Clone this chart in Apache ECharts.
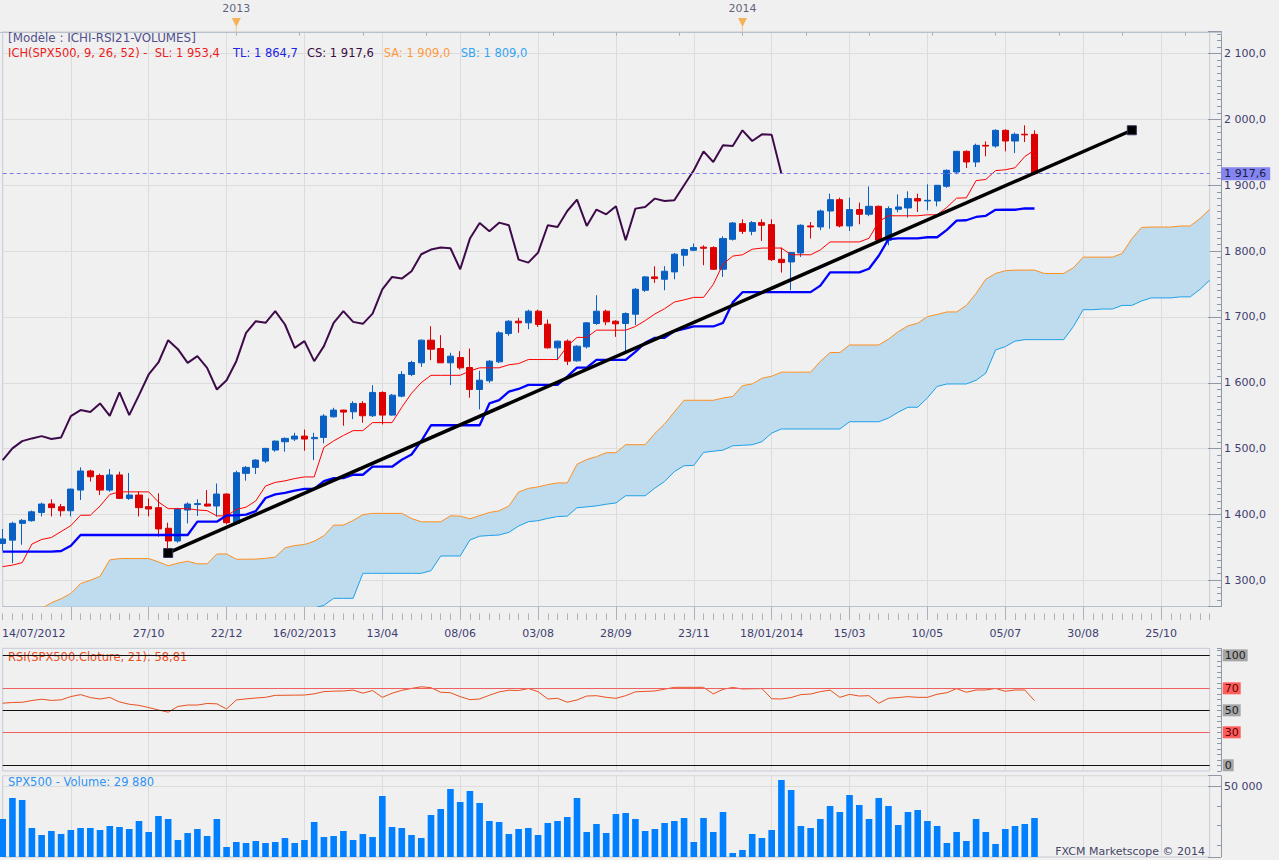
<!DOCTYPE html>
<html><head><meta charset="utf-8">
<script src="https://cdn.jsdelivr.net/npm/echarts@6/dist/echarts.min.js"></script>
<style>html,body{margin:0;padding:0;background:#f0f0f0;}#c{width:1279px;height:860px;}</style>
</head><body><div id="c"></div>
<script>
// ---------- data (weekly SPX500, week of 14/07/2012 = index 0) ----------
const openP = [1356,1361,1386.5,1390.5,1403,1416,1411.7,1405.6,1437,1466,
 1459,1437,1460,1424.4,1429.5,1411.8,1410.3,1379,1359.7,1406.7,
 1415,1415.8,1412.8,1431,1386.5,1462.4,1471.5,1481,1497.8,1510.4,
 1514.5,1519,1515,1517,1548.3,1558.5,1555.9,1568.6,1549.9,1585.3,
 1550.9,1579.7,1612.6,1630.3,1664.7,1652,1630.3,1638.4,1623.2,1589.8,
 1603,1631.8,1674.8,1693.5,1691,1708.7,1689,1653,1663.2,1633.3,
 1654.6,1690,1708.7,1693.5,1690,1704.1,1740.5,1760.8,1757.2,1768.4,
 1793.7,1801.3,1806,1805.3,1772.4,1817.9,1841.7,1830,1843.2,1840.2,
 1787.6,1783.5,1797.2,1838.2,1836.7,1860.9,1878.1,1838.2,1863,1855.9,
 1868,1816.4,1863.5,1865.5,1879.7,1876.1,1876.1,1898.4,1920.1,1951.5,
 1935.3,1960.6,1959.6,1983.4,1967.2,1977.5,1977.3];
const closeP = [1362.7,1386.5,1391,1404,1415.8,1410.3,1405.6,1438.5,1466,1457.3,
 1437,1460,1424.4,1429.5,1410.3,1408.3,1378,1359.7,1408.3,1415.8,
 1416.5,1412.8,1431,1387.5,1463.4,1471.5,1482.6,1500.3,1511.4,1515.5,
 1519,1514.5,1517,1549.4,1558.5,1555.5,1568.6,1549.9,1585.3,1550.9,
 1581.2,1612.6,1630.8,1664.7,1651,1630.3,1640.4,1622.7,1589.8,1603.9,
 1632.8,1675.8,1693.5,1691,1708.7,1688.5,1653,1663.2,1632.8,1655.6,
 1691,1708.7,1692.5,1689.5,1705.1,1742,1760.8,1758.2,1769.4,1795.2,
 1802.3,1805.3,1804.3,1772.4,1819,1842.7,1830,1843.2,1839.2,1787,
 1782.5,1797.7,1839.2,1836.7,1860.9,1878.1,1838.2,1863,1855.9,1868,
 1816.4,1864.5,1867,1879.7,1876.1,1877.1,1899.9,1922.7,1951.5,1935.3,
 1960.6,1959.5,1983.4,1967.2,1977.3,1976.5,1917.6];
const lowP = [1345,1326,1354,1389,1397,1397,1397,1397,1422,1450,
 1429.5,1434.6,1423.4,1422,1397,1397,1366.3,1348.6,1357,1386.5,
 1397.6,1411.8,1396.6,1385,1385,1451.3,1461.4,1478,1495.3,1495.3,
 1511.4,1496.8,1482.6,1508,1547.3,1534.7,1544.8,1539.3,1548,1536.7,
 1550,1578,1610,1624.2,1634.3,1630,1596.4,1620,1577.2,1559.5,
 1600,1630,1671.3,1675.8,1681.4,1684.9,1652,1634.3,1626.8,1632,
 1652,1688,1687.4,1669.7,1648,1687.4,1738,1751.7,1740.5,1757.2,
 1777,1800,1778.5,1771.4,1760.8,1816,1826,1824,1815.4,1785,
 1767.3,1740.5,1791.1,1819,1831.6,1834,1836,1830.6,1840.7,1853,
 1815.4,1808.8,1859,1850.8,1859.4,1862,1868,1896,1916.6,1926.2,
 1927.7,1943.9,1957.1,1951.5,1948.9,1965.6,1916];
const highP = [1378,1389,1393,1406,1418,1423,1416,1439,1471.5,1468,
 1462,1469,1465,1463,1435,1424.4,1432,1387.5,1410,1418.4,
 1423,1437,1447,1432,1466.4,1473.5,1484,1501.3,1512.4,1517,
 1524,1529,1524,1552.4,1562,1559,1572,1572,1596.4,1587,
 1583,1617.6,1633.3,1665.7,1685.9,1672.3,1645.5,1648,1652,1618.2,
 1634.3,1678.3,1695,1698.6,1711,1711,1696,1664,1665.7,1657,
 1692,1733,1711,1695,1707,1744,1762,1777,1777,1797.2,
 1803.8,1811.4,1808.8,1807.3,1822.5,1844.2,1848.3,1845.7,1848.3,1848.3,
 1805.3,1798.5,1840.7,1844.2,1863,1887.2,1881.1,1881.2,1873.6,1898.3,
 1869,1868,1886.2,1890.8,1887.2,1901.4,1900.4,1924,1952,1953,
 1963.1,1966.7,1984.9,1985,1980,1991,1983.4];
// Ichimoku lines
const tenkan = [1320.8,1323,1326.8,1355,1362,1365,1374,1383,1398.8,1398.8,
 1412.8,1430.3,1434.3,1434.3,1434.3,1434.3,1418.9,1408.8,1408.8,1408.8,
 1406.8,1405.8,1397.8,1397.8,1407.5,1411.1,1420.5,1443.2,1448.7,1451,
 1454.5,1457,1457,1501.9,1511.7,1520,1527.3,1527.3,1539.5,1539.5,
 1539.5,1562.8,1584,1600.2,1611.3,1611.3,1611.3,1611.3,1618,1622.7,
 1622.7,1622.7,1627.3,1629.1,1635.3,1635.3,1635.3,1635.3,1655.5,1668.9,
 1668.9,1679.9,1679.9,1679.9,1679.9,1685.4,1694.4,1704.5,1712.5,1722.6,
 1725.9,1729.7,1729.7,1749.4,1780.3,1792.4,1794.4,1802.8,1804.6,1804.6,
 1804.6,1794.4,1794.4,1794.4,1801.8,1813.9,1813.9,1813.9,1813.9,1819.4,
 1844.7,1853.6,1853.6,1853.6,1853.6,1855.1,1855.1,1866.4,1880.4,1880.9,
 1907,1908.8,1922.2,1923.5,1926.5,1943.5,1953.4];
const kijun = [1343.5,1343.5,1343.5,1343.5,1343.5,1343.5,1344.5,1352.5,1368.8,1368.8,
 1368.8,1368.8,1368.8,1368.8,1368.8,1368.8,1368.8,1368.8,1368.8,1368.8,
 1389,1389,1389,1398.5,1398.5,1399.8,1405,1425,1430.5,1432.8,
 1436.3,1438.8,1438.8,1450.5,1455.3,1455.3,1460.3,1460.3,1472.5,1472.5,
 1472.5,1483.1,1491,1511.4,1535.5,1535.5,1535.5,1535.5,1535.5,1535.5,
 1568.6,1573.7,1586.5,1590.6,1596.8,1596.8,1596.8,1596.8,1609.5,1622.9,
 1622.9,1634.9,1634.9,1634.9,1634.9,1647,1660.8,1668.3,1668.3,1678.4,
 1681.7,1685.5,1685.5,1685.5,1691,1722.1,1737.6,1737.6,1737.6,1737.6,
 1737.6,1737.6,1737.6,1737.6,1747.5,1767.6,1767.6,1767.6,1767.6,1773.2,
 1792.9,1818.2,1819.4,1819.4,1819.4,1821,1821,1832.3,1846.3,1846.8,
 1851.8,1853.6,1862.7,1862.8,1862.8,1864.7,1864.7];
const chikou = [1482.6,1500.3,1511.4,1515.5,1519,1514.5,1517,1549.4,1558.5,1555.5,
 1568.6,1549.9,1585.3,1550.9,1581.2,1612.6,1630.8,1664.7,1651,1630.3,
 1640.4,1622.7,1589.8,1603.9,1632.8,1675.8,1693.5,1691,1708.7,1688.5,
 1653,1663.2,1632.8,1655.6,1691,1708.7,1692.5,1689.5,1705.1,1742,
 1760.8,1758.2,1769.4,1795.2,1802.3,1805.3,1804.3,1772.4,1819,1842.7,
 1830,1843.2,1839.2,1787,1782.5,1797.7,1839.2,1836.7,1860.9,1878.1,
 1838.2,1863,1855.9,1868,1816.4,1864.5,1867,1879.7,1876.1,1877.1,
 1899.9,1922.7,1951.5,1935.3,1960.6,1959.5,1983.4,1967.2,1977.3,1976.5,
 1917.6];
const senkouA = [1215,1228,1240,1250,1257,1266,1272,1280,1295,1300,
 1306,1331,1333,1333,1333,1333,1328,1322,1326,1329,
 1325,1325,1340,1340,1332,1332,1332.2,1333.3,1335.2,1349.3,
 1352.8,1354.3,1359.3,1367.8,1383.8,1383.8,1390.8,1399.6,1401.6,1401.6,
 1401.6,1401.6,1393.9,1388.8,1388.8,1388.8,1397.9,1397.4,1393.4,1398.2,
 1403,1405.5,1412.8,1434.1,1439.6,1441.9,1445.4,1447.9,1447.9,1476.2,
 1483.5,1487.7,1493.8,1493.8,1506,1506,1506,1523,1537.5,1555.8,
 1573.4,1573.4,1573.4,1573.4,1576.8,1579.1,1595.7,1598.2,1606.9,1609.9,
 1616.1,1616.1,1616.1,1616.1,1632.5,1645.9,1645.9,1657.4,1657.4,1657.4,
 1657.4,1666.2,1677.6,1686.4,1690.4,1700.5,1703.8,1707.6,1707.6,1717.5,
 1735.7,1757.3,1766,1770.2,1771.1,1771.1,1771.1,1766,1766,1766,
 1774.7,1790.8,1790.8,1790.8,1790.8,1796.3,1818.8,1835.9,1836.5,1836.5,
 1836.5,1838.1,1838.1,1849.4,1863.4];
const senkouB = [1190,1190,1190,1195,1200,1200,1205,1210,1215,1215,
 1220,1225,1225,1228,1230,1232,1235,1235,1238,1240,
 1240,1242,1245,1245,1248,1250,1250,1252,1252,1254,
 1255,1256,1258,1262,1272.6,1272.6,1272.6,1310.6,1310.6,1310.6,
 1310.6,1310.6,1310.6,1310.6,1314.6,1336.9,1336.9,1336.9,1361.2,1367,
 1368,1368.8,1372.8,1382.4,1389,1390.5,1394,1396.8,1397.5,1410.2,
 1411.5,1413,1415.5,1417.5,1428.4,1428.4,1428.4,1440,1450,1465,
 1474,1474.5,1494.2,1496,1497.7,1504.3,1505,1505.9,1510.5,1523.6,
 1529.8,1529.8,1529.8,1529.8,1529.8,1529.8,1529.8,1540.8,1540.8,1540.8,
 1540.8,1546.3,1555.3,1562.8,1562.8,1577.1,1594.4,1598.2,1598.2,1598.2,
 1603.8,1614.6,1649.8,1654.9,1663.2,1665.5,1665.5,1665.5,1665.5,1665.5,
 1685.5,1711,1711,1712,1712,1717.5,1717.5,1724.2,1728.9,1728.9,
 1728.9,1730.5,1730.5,1741.8,1755.8];
const rsi = [56.5,57.1,57.3,58.9,60.1,59,59.5,62.5,64.3,61.6,
 60.3,61.7,57.6,55.5,54.5,52.5,50.3,48.3,53.5,54.8,
 54.8,56.2,55.9,51.2,59.4,60.4,61.2,61.8,63.6,63.7,
 63.8,63.9,65,67,67.4,67.6,68.4,65.6,68,61.8,
 65.5,68.2,69.9,71.4,70.6,66.4,66,62.4,59.7,60.3,
 63.7,66.7,68.3,68,69.8,67,60.3,60.9,57.4,59.4,
 63,63.3,61.8,60.9,63.3,66.8,67.2,67.6,69.2,70.9,
 70.9,70.9,70.9,64.9,69.1,70.8,69.4,69.6,69.7,60.5,
 60.3,61.6,64.3,64.8,67,68.4,61.8,64.5,63,63.3,
 56.4,60.9,61.6,62.4,61.8,61.8,64.6,66,69.7,66.4,
 68.5,68.5,69.9,67.3,68.5,68.5,58.8];
const volume = [29240,42720,41440,23460,18960,21530,19610,22170,23460,23460,
 22170,24740,24100,22820,27950,20890,31160,29240,15750,20250,
 22820,18320,29240,11260,14470,13830,15110,13830,14470,17040,
 13830,15750,27310,17680,18320,21530,15750,19610,17680,44000,
 24100,23460,18960,17040,31800,35660,48500,40150,47220,39510,
 27950,27310,19610,22820,23460,18960,26670,27950,30520,42720,
 20890,26030,20250,32440,33090,29240,21530,22820,26670,27950,
 29880,14470,29880,20890,33730,7400,9330,19610,17040,22170,
 54280,47860,24740,23460,29240,37590,33730,44650,38230,29240,
 42720,37590,25380,33730,35020,27950,24740,13830,20890,15110,
 29240,20890,13190,22820,24740,26030,29880];
const trendLine = [[17, 1341.5], [116, 1983.5]];
const lastPrice = 1917.6;
const rsiLevels = [100, 70, 50, 30, 0];
const xTickIndex = [0,15,23,31,39,47,55,63,71,79,87,95,103,111,119];
const xTickLabels = ['14/07/2012','27/10','22/12','16/02/2013','13/04','08/06','03/08','28/09','23/11','18/01/2014','15/03','10/05','05/07','30/08','25/10'];
const yearIndex = [24, 76];
const yearLabels = ['2013', '2014'];
const N_SLOTS = 125;

// ---------- categories (weekly dates) ----------
const cats = [];
const t0 = Date.UTC(2012, 6, 14);
for (let i = 0; i < N_SLOTS; i++) {
  const d = new Date(t0 + i * 7 * 86400000);
  cats.push(String(d.getUTCDate()).padStart(2,'0') + '/' + String(d.getUTCMonth()+1).padStart(2,'0') + '/' + d.getUTCFullYear());
}
const candles = openP.map((o, i) => [o, closeP[i], lowP[i], highP[i]]);
const kumoThickness = senkouA.map((a, i) => a - senkouB[i]);

const FONT = "'DejaVu Sans', sans-serif";
const AX = '#8f98a6';
const GRIDC = '#dcdcdc';
const LBL = '#404070';
const splitFn = (i) => i % 8 === 7;
const labelFn = (i) => xTickIndex.indexOf(i) >= 0;

function priceFmt(v) {
  const n = Math.round(v);
  if (Math.abs(v - n) > 0.01 || n % 100 !== 0) return '';
  return Math.floor(n / 1000) + ' ' + String(n % 1000).padStart(3, '0') + ',0';
}

const levelStyle = {
  100: {line: '#111111', bg: '#a6a6a6', fg: '#222222'},
  70: {line: '#f06060', bg: '#ff5c5c', fg: '#5a0000'},
  50: {line: '#111111', bg: '#a6a6a6', fg: '#222222'},
  30: {line: '#f06060', bg: '#ff5c5c', fg: '#5a0000'},
  0: {line: '#111111', bg: '#a6a6a6', fg: '#222222'}
};

const frame = {show: true, borderColor: '#c3cad6', borderWidth: 1, backgroundColor: 'transparent', outerBoundsMode: 'none', containLabel: false};

const option = {
  animation: false,
  backgroundColor: '#f0f0f0',
  textStyle: {fontFamily: FONT},
  title: [
    {text: '[Modèle : ICHI-RSI21-VOLUMES]', left: 8, top: 31, padding: 0, z: 1,
     textStyle: {fontFamily: FONT, fontSize: 11.9, fontWeight: 'normal', color: '#50508c', lineHeight: 13}},
    {text: '{r|ICH(SPX500, 9, 26, 52) -  SL: 1 953,4}{b|TL: 1 864,7}{p|CS: 1 917,6}{o|SA: 1 909,0}{c|SB: 1 809,0}',
     left: 8, top: 46.2, padding: 0, z: 1,
     textStyle: {fontFamily: FONT, fontSize: 11.5, fontWeight: 'normal', lineHeight: 13,
       rich: {
         r: {color: '#ee1c1c', width: 225, fontFamily: FONT, fontSize: 11.5},
         b: {color: '#2323e6', width: 74, fontFamily: FONT, fontSize: 11.5},
         p: {color: '#3a0d46', width: 76.7, fontFamily: FONT, fontSize: 11.5},
         o: {color: '#ff9a3c', width: 77, fontFamily: FONT, fontSize: 11.5},
         c: {color: '#34a5f5', fontFamily: FONT, fontSize: 11.5}
       }}},
    {text: 'RSI(SPX500.Cloture, 21): 58,81', left: 8, top: 650.2, padding: 0, z: 1,
     textStyle: {fontFamily: FONT, fontSize: 11.5, fontWeight: 'normal', color: '#ec4f1f', lineHeight: 13}},
    {text: 'SPX500 - Volume: 29 880', left: 8, top: 775.8, padding: 0, z: 1,
     textStyle: {fontFamily: FONT, fontSize: 11.5, fontWeight: 'normal', color: '#2f93f5', lineHeight: 13}},
    {text: 'FXCM Marketscope © 2014', right: 74, top: 844.5, padding: 0, z: 1,
     textStyle: {fontFamily: FONT, fontSize: 11, fontWeight: 'normal', color: '#454566', lineHeight: 13}}
  ],
  grid: [
    Object.assign({left: 2.7, top: 31.5, width: 1207, height: 575}, frame),
    Object.assign({left: 2.7, top: 648.3, width: 1207, height: 122.7}, frame),
    Object.assign({left: 2.7, top: 775.7, width: 1207, height: 81.3}, frame),
    {left: -16.7, top: 18.3, width: 1237.7, height: 14, show: false, outerBoundsMode: 'none', containLabel: false},
    {left: 2.7, top: 18.3, width: 1207, height: 14, show: false, outerBoundsMode: 'none', containLabel: false}
  ],
  xAxis: [
    {type: 'category', gridIndex: 0, data: cats, boundaryGap: false,
     axisLine: {show: true, lineStyle: {color: '#b9c1cd'}},
     axisTick: {show: true, interval: splitFn, length: 13, lineStyle: {color: '#a9b1bd'}},
     axisLabel: {show: true, interval: labelFn, margin: 21, color: LBL, fontFamily: FONT, fontSize: 11,
       formatter: function (val, idx) {
         const k = xTickIndex.indexOf(idx);
         if (k < 0) return '';
         return k === 0 ? '{first|' + xTickLabels[0] + '}' : xTickLabels[k];
       },
       rich: {first: {padding: [0, 0, 0, 62], color: LBL, fontFamily: FONT, fontSize: 11}}},
     splitLine: {show: true, interval: splitFn, lineStyle: {color: GRIDC, width: 1}}},
    {type: 'category', gridIndex: 0, data: cats, boundaryGap: false, position: 'bottom', offset: 13.5,
     axisLine: {show: false},
     axisTick: {show: true, interval: 0, inside: true, length: 6.5, lineStyle: {color: '#a9b1bd'}},
     axisLabel: {show: false}, splitLine: {show: false}},
    {type: 'category', gridIndex: 1, data: cats, boundaryGap: false,
     axisLine: {show: false}, axisTick: {show: false}, axisLabel: {show: false},
     splitLine: {show: true, interval: splitFn, lineStyle: {color: GRIDC}}},
    {type: 'category', gridIndex: 2, data: cats, boundaryGap: false,
     axisLine: {show: false}, axisTick: {show: false}, axisLabel: {show: false},
     splitLine: {show: true, interval: splitFn, lineStyle: {color: GRIDC}}},
    {type: 'value', gridIndex: 3, min: 0, max: 19.56, interval: 1, position: 'top',
     axisLine: {show: true, lineStyle: {color: '#b9c1cd'}},
     axisTick: {show: true, inside: true, length: 3.5, lineStyle: {color: '#a9b1bd'}},
     axisLabel: {show: false}, splitLine: {show: false}},
    {type: 'category', gridIndex: 4, data: cats, boundaryGap: false, show: false}
  ],
  yAxis: [
    {type: 'value', gridIndex: 0, position: 'right', offset: 11.3, min: 1260.2, max: 2133.5, splitNumber: 9, scale: true,
     axisLine: {show: true, lineStyle: {color: AX}},
     axisTick: {show: true, inside: true, length: 13, lineStyle: {color: AX}},
     minorTick: {show: true, splitNumber: 10, length: 4, lineStyle: {color: AX}},
     axisLabel: {show: true, inside: false, margin: 3, color: LBL, fontFamily: FONT, fontSize: 11, formatter: priceFmt,
       showMinLabel: false, showMaxLabel: false},
     splitLine: {show: true, lineStyle: {color: GRIDC}}, minorSplitLine: {show: false}},
    {type: 'value', gridIndex: 1, position: 'right', offset: 11.3, min: -5.2, max: 106.4, splitNumber: 11,
     axisLine: {show: true, lineStyle: {color: AX}},
     axisTick: {show: true, inside: true, length: 4, lineStyle: {color: AX}},
     minorTick: {show: true, splitNumber: 2, length: 4, lineStyle: {color: AX}},
     axisLabel: {show: false}, splitLine: {show: false}},
    {type: 'value', gridIndex: 2, position: 'right', offset: 11.3, min: 4815, max: 57060, splitNumber: 1,
     axisLine: {show: true, lineStyle: {color: AX}},
     axisTick: {show: true, inside: true, length: 13, lineStyle: {color: AX}},
     minorTick: {show: true, splitNumber: 4, length: 4, lineStyle: {color: AX}},
     axisLabel: {show: true, margin: 3, color: LBL, fontFamily: FONT, fontSize: 11,
       formatter: (v) => (Math.round(v) === 50000 ? '50 000' : ''), showMinLabel: false, showMaxLabel: false},
     splitLine: {show: true, lineStyle: {color: GRIDC}}},
    {type: 'value', gridIndex: 3, min: 0, max: 1, show: false},
    {type: 'value', gridIndex: 4, min: 0, max: 1, show: false}
  ],
  series: [
    {name: 'kumoBase', type: 'line', xAxisIndex: 0, yAxisIndex: 0, data: senkouB, stack: 'kumo',
     symbol: 'none', lineStyle: {width: 0, opacity: 0}, silent: true, z: 1},
    {name: 'kumo', type: 'line', xAxisIndex: 0, yAxisIndex: 0, data: kumoThickness, stack: 'kumo',
     symbol: 'none', lineStyle: {width: 0, opacity: 0}, areaStyle: {color: '#bedcee', opacity: 1}, silent: true, z: 1},
    {name: 'SA', type: 'line', xAxisIndex: 0, yAxisIndex: 0, data: senkouA, symbol: 'none',
     lineStyle: {color: '#ff8f1f', width: 1}, silent: true, z: 2},
    {name: 'SB', type: 'line', xAxisIndex: 0, yAxisIndex: 0, data: senkouB, symbol: 'none',
     lineStyle: {color: '#1ea0e8', width: 1}, silent: true, z: 2},
    {name: 'SPX500', type: 'candlestick', xAxisIndex: 0, yAxisIndex: 0, data: candles, barWidth: 6.6, clip: false,
     itemStyle: {color: '#0a60c2', color0: '#dc0000', borderColor: '#0a60c2', borderColor0: '#dc0000', borderWidth: 1},
     markLine: {silent: true, symbol: ['none', 'none'], animation: false,
       data: [{yAxis: lastPrice}],
       lineStyle: {type: [4, 3], color: '#7c7ce8', width: 1},
       label: {show: true, position: 'end', distance: 11.5, formatter: '1 917,6', backgroundColor: '#8585f0',
         color: '#1c1c4a', padding: [1, 4, 1, 3], fontFamily: FONT, fontSize: 11}},
     z: 3},
    {name: 'CS', type: 'line', xAxisIndex: 0, yAxisIndex: 0, data: chikou, symbol: 'none',
     lineStyle: {color: '#3e0b4a', width: 2}, silent: true, z: 4},
    {name: 'SL', type: 'line', xAxisIndex: 0, yAxisIndex: 0, data: tenkan, symbol: 'none',
     lineStyle: {color: '#ff0000', width: 1}, silent: true, z: 4},
    {name: 'TL', type: 'line', xAxisIndex: 0, yAxisIndex: 0, data: kijun, symbol: 'none',
     lineStyle: {color: '#0000ff', width: 2.3}, silent: true, z: 4},
    {name: 'trend', type: 'line', xAxisIndex: 0, yAxisIndex: 0, data: trendLine, symbol: 'rect', symbolSize: 9,
     showSymbol: true, showAllSymbol: true, clip: false,
     itemStyle: {color: '#000000', borderColor: '#30305a', borderWidth: 1},
     lineStyle: {color: '#000000', width: 3.5}, silent: true, z: 6},
    {name: 'RSI', type: 'line', xAxisIndex: 2, yAxisIndex: 1, data: rsi, symbol: 'none',
     lineStyle: {color: '#e8501e', width: 1}, silent: true, z: 3,
     markLine: {silent: true, symbol: ['none', 'none'], animation: false,
       data: rsiLevels.map(v => ({yAxis: v,
         lineStyle: {color: levelStyle[v].line, width: 1, type: 'solid'},
         label: {show: true, position: 'end', distance: 13, formatter: String(v), backgroundColor: levelStyle[v].bg,
           color: levelStyle[v].fg, padding: [1, 2, 0, 2], fontFamily: FONT, fontSize: 11}}))}},
    {name: 'Volume', type: 'bar', xAxisIndex: 3, yAxisIndex: 2, data: volume, barWidth: 6.6,
     itemStyle: {color: '#0080ff'}, silent: true, z: 3},
    {name: 'yearStem', type: 'scatter', xAxisIndex: 5, yAxisIndex: 4, data: yearIndex.map(i => [i, 0.2]),
     symbol: 'rect', symbolSize: [1, 6], itemStyle: {color: '#e8c090'}, silent: true, z: 5},
    {name: 'years', type: 'scatter', xAxisIndex: 5, yAxisIndex: 4, data: yearIndex.map(i => [i, 0.7]),
     symbol: 'triangle', symbolRotate: 180, symbolSize: 9, itemStyle: {color: '#f7a334'}, silent: true, z: 6,
     label: {show: true, position: 'top', distance: 4, color: '#3a3a5e', fontFamily: FONT, fontSize: 11,
       formatter: (p) => yearLabels[p.dataIndex]}}
  ]
};

const chart = echarts.init(document.getElementById('c'), null, {renderer: 'svg'});
chart.setOption(option);
</script></body></html>
